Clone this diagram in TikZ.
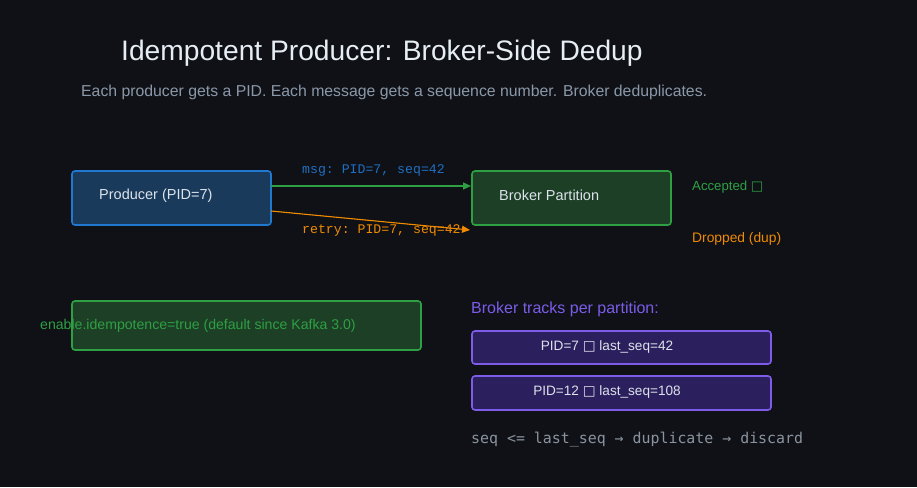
\documentclass[tikz,border=0pt]{standalone}
\usepackage{fontspec}
\setmainfont{Liberation Sans}
\setmonofont{Liberation Mono}
\newfontfamily\djsans{DejaVu Sans}
\newfontfamily\djmono{DejaVu Sans Mono}
\usetikzlibrary{arrows.meta}
\definecolor{bg}{HTML}{0F1117}
\definecolor{prodfill}{HTML}{1A3A5C}
\definecolor{prodline}{HTML}{2178D0}
\definecolor{gfill}{HTML}{1C3F26}
\definecolor{gline}{HTML}{2EA043}
\definecolor{pfill}{HTML}{2C1F5E}
\definecolor{pline}{HTML}{7C5CE8}
\definecolor{orng}{HTML}{F08A00}
\definecolor{msgblue}{HTML}{1F6FC0}
\definecolor{titlec}{HTML}{E6EDF3}
\definecolor{subc}{HTML}{8B98A8}
\definecolor{txtc}{HTML}{DCE3EA}
\definecolor{greyc}{HTML}{8B949E}
\tikzset{
  box/.style={draw, line width=1.6pt, rounded corners=3pt, inner sep=0pt},
  lbl/.style={inner sep=0pt, anchor=west},
  arr/.style={line width=1.6pt, -{Triangle[length=8pt,width=7pt]}},
}
\begin{document}
\begin{tikzpicture}[x=1pt,y=-1pt]
\fill[bg] (0,0) rectangle (917,487);
\useasboundingbox (0,0) rectangle (917,487);

\node[lbl, text=titlec, font=\fontsize{28.2}{31}\selectfont] (title) at (121,53.5) {Idempotent Producer: Broker-Side Dedup};
\node[lbl, text=subc, font=\fontsize{15.8}{18}\selectfont] (sub) at (81,92.5) {Each producer gets a PID. Each message gets a sequence number. Broker deduplicates.};

\draw[box, fill=prodfill, draw=prodline] (72,171) rectangle (271,225);
\coordinate (prodE1) at (271,186);
\coordinate (prodE2) at (271,211);
\node[lbl, text=txtc, font=\fontsize{14.5}{17}\selectfont] (prod) at (99,195.5) {Producer (PID=7)};

\draw[box, fill=gfill, draw=gline] (472,171) rectangle (671,225);
\coordinate (brkW) at (471,186);
\coordinate (brkR) at (470,230);
\node[lbl, text=txtc, font=\fontsize{14.5}{17}\selectfont] (brk) at (499,195.5) {Broker Partition};

\draw[arr, draw=gline, fill=gline, line width=1.3pt] (prodE1) -- (brkW);
\node[lbl, text=msgblue, font=\ttfamily\fontsize{13.2}{15}\selectfont] (msg) at (302,170) {msg: PID=7, seq=42};
\node[lbl, text=orng, font=\ttfamily\fontsize{13.2}{15}\selectfont] (retry) at (302,230) {retry: PID=7, seq=42};
\draw[arr, draw=orng, fill=orng, line width=1.1pt] (prodE2) -- (brkR);

\node[lbl, text=gline, font=\fontsize{13.2}{15}\selectfont] (acc) at (692,187.5) {Accepted {\djsans □}};
\node[lbl, text=orng, font=\fontsize{13.8}{15}\selectfont] (drop) at (692,238.5) {Dropped (dup)};

\draw[box, fill=gfill, draw=gline] (72,301) rectangle (421,350);
\node[lbl, text=gline, font=\fontsize{14.1}{16}\selectfont] (cfg) at (40,325.5) {enable.idempotence=true (default since Kafka 3.0)};

\node[lbl, text=pline, font=\fontsize{16}{18}\selectfont] (track) at (471,309.5) {Broker tracks per partition:};
\draw[box, fill=pfill, draw=pline] (472,331) rectangle (771,364);
\node[text=txtc, inner sep=0pt, font=\fontsize{13.6}{15}\selectfont] (pid7) at (607,346.5) {PID=7 {\djsans □} last\_seq=42};
\draw[box, fill=pfill, draw=pline] (472,376) rectangle (771,410);
\node[text=txtc, inner sep=0pt, font=\fontsize{13.6}{15}\selectfont] (pid12) at (607,391.5) {PID=12 {\djsans □} last\_seq=108};

\node[lbl, text=greyc, font=\djmono\fontsize{14.9}{17}\selectfont] (rule) at (471,440) {seq <= last\_seq → duplicate → discard};
\end{tikzpicture}
\end{document}
